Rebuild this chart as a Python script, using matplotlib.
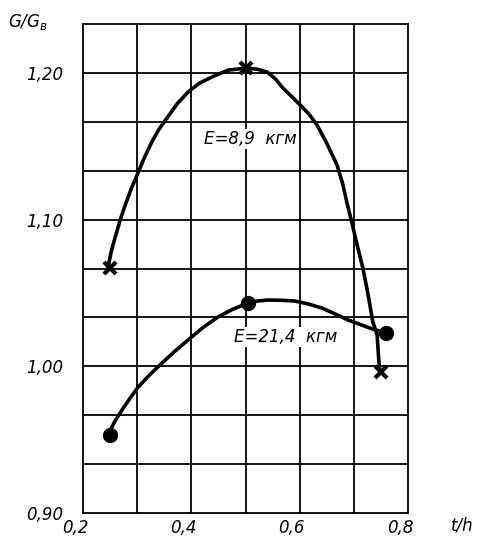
import matplotlib.pyplot as plt
import matplotlib.transforms as mtransforms

# measured points (t/h, G/G0)
x_e89 = [0.25, 0.50, 0.75]
y_e89 = [1.067, 1.203, 0.996]
x_e214 = [0.25, 0.505, 0.76]
y_e214 = [0.953, 1.043, 1.023]

# curves
curve_e89_x = [0.246, 0.252, 0.259, 0.268, 0.278, 0.289, 0.300, 0.313, 0.327,
               0.341, 0.355, 0.374, 0.394, 0.415, 0.438, 0.468, 0.503, 0.522,
               0.540, 0.555, 0.569, 0.585, 0.601, 0.617, 0.632, 0.650, 0.669,
               0.679, 0.687, 0.697, 0.706, 0.716, 0.724, 0.730, 0.735, 0.740,
               0.743, 0.746, 0.748]
curve_e89_y = [1.067, 1.078, 1.0875, 1.099, 1.110, 1.121, 1.1304, 1.142,
               1.1529, 1.162, 1.1692, 1.179, 1.187, 1.193, 1.1972, 1.2019,
               1.2033, 1.2025, 1.2006, 1.196, 1.1897, 1.184, 1.1781, 1.172,
               1.1645, 1.152, 1.1372, 1.125, 1.112, 1.097, 1.0827, 1.068,
               1.0534, 1.041, 1.0302, 1.025, 1.0213, 1.0043, 0.9961]
curve_e214_x = [0.246, 0.258, 0.272, 0.287, 0.302, 0.324, 0.346, 0.370, 0.394,
                0.420, 0.449, 0.477, 0.505, 0.522, 0.542, 0.566, 0.591, 0.616,
                0.641, 0.665, 0.689, 0.714, 0.739, 0.761]
curve_e214_y = [0.9532, 0.9620, 0.9702, 0.9783, 0.9859, 0.9945, 1.0023, 1.0104,
                1.0179, 1.0260, 1.0336, 1.0390, 1.0431, 1.0445, 1.0452, 1.0450,
                1.0445, 1.0425, 1.0397, 1.0358, 1.0316, 1.0282, 1.0248, 1.0227]

x_ticks = [0.2, 0.4, 0.6, 0.8]
x_ticklabels = ['0,2', '0,4', '0,6', '0,8']
y_ticks = [0.90, 1.00, 1.10, 1.20]
y_ticklabels = ['0,90', '1,00', '1,10', '1,20']

fig = plt.figure(figsize=(4.87, 5.41), dpi=100)
ax = fig.add_axes([83 / 487, 28 / 541, 325 / 487, 489 / 541])

ax.set_xlim(0.2, 0.8)
ax.set_ylim(0.9, 0.9 + 10 / 30)

# grid: every 0.1 in x, every 1/30 in y
for i in range(1, 6):
    ax.axvline(0.2 + i * 0.1, color='black', lw=1.3, zorder=1)
for j in range(1, 10):
    ax.axhline(0.9 + j / 30, color='black', lw=1.3, zorder=1)
for s in ax.spines.values():
    s.set_linewidth(1.3)

line_kw = dict(color='black', lw=2.6, zorder=3,
               solid_joinstyle='round', solid_capstyle='round')
ax.plot(curve_e89_x, curve_e89_y, **line_kw)
ax.plot(curve_e214_x, curve_e214_y, **line_kw)
ax.plot(x_e89, y_e89, 'x', color='black', ms=9, mew=3, zorder=4)
ax.plot(x_e214, y_e214, 'o', color='black', ms=10, zorder=4)

txt = dict(fontsize=12, style='italic', color='black', ha='center', va='center',
           zorder=5, bbox=dict(facecolor='white', edgecolor='none', pad=1))
ax.text(0.508, 1.155, 'E=8,9  кгм', **txt)
ax.text(0.575, 1.020, 'E=21,4  кгм', **txt)

ax.set_xticks(x_ticks)
ax.set_xticklabels(x_ticklabels, fontsize=12, style='italic')
ax.set_yticks(y_ticks)
ax.set_yticklabels(y_ticklabels, fontsize=12, style='italic')
ax.tick_params(length=0, pad=14, axis='y')
ax.tick_params(length=0, pad=4, axis='x')
shift = mtransforms.ScaledTranslation(-8 / 100, 0, fig.dpi_scale_trans)
for lab in ax.get_xticklabels():
    lab.set_transform(lab.get_transform() + shift)

fig.text(8 / 487, 1 - 22 / 541, 'G/G$_{в}$', fontsize=12, style='italic',
         ha='left', va='center')
fig.text(462 / 487, 1 - 525 / 541, 't/h', fontsize=12, style='italic',
         ha='center', va='center')

fig.savefig('out.png', dpi=100)
